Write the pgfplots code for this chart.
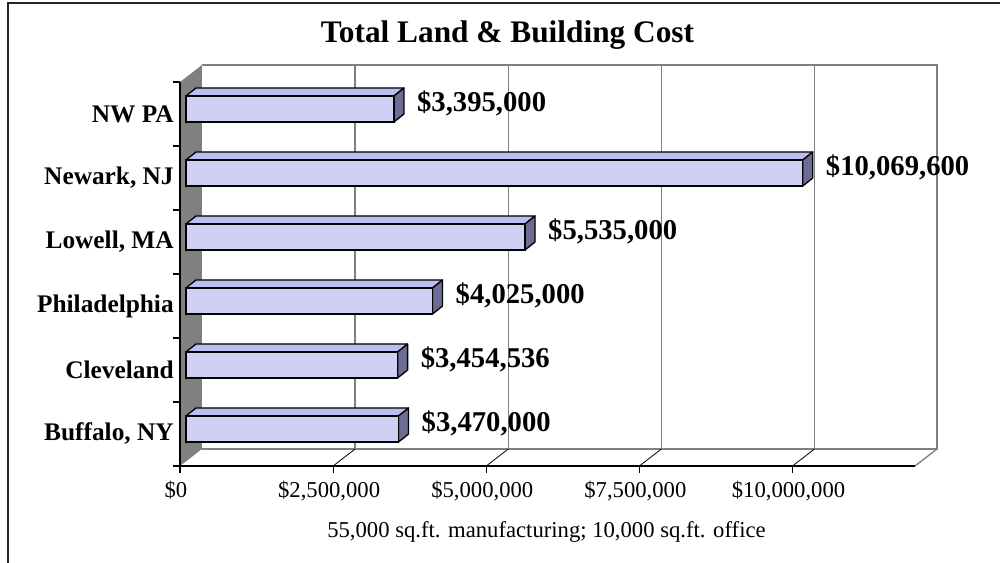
\documentclass[border=0pt]{standalone}
\usepackage{fontspec}
\setmainfont{Liberation Serif}
\usepackage{pgfplots}
\usepackage{pgfplotstable}
\pgfplotsset{compat=1.18}

\definecolor{barface}{RGB}{208,208,245}
\definecolor{bartop}{RGB}{188,188,238}
\definecolor{barend}{RGB}{108,108,150}
\definecolor{wallgray}{RGB}{128,128,128}
\definecolor{gridgray}{RGB}{128,128,128}

% y = category slot, bottom to top
\pgfplotstableread{
y value label
1 3470000 3,470,000
2 3454536 3,454,536
3 4025000 4,025,000
4 5535000 5,535,000
5 10069600 10,069,600
6 3395000 3,395,000
}\costs

\begin{document}
\begin{tikzpicture}
\begin{axis}[
  scale only axis, width=551.25pt, height=288pt,
  xmin=0, xmax=12000000, ymin=0.5, ymax=6.5,
  clip=false, axis on top,
  axis x line*=bottom, axis y line*=left,
  axis line style={black, line width=0.8pt},
  xtick={0,2500000,5000000,7500000,10000000},
  xticklabels={{\$0},{\$2,500,000},{\$5,000,000},{\$7,500,000},{\$10,000,000}},
  minor xtick={0,2500000,5000000,7500000,10000000},
  scaled x ticks=false,
  ytick={1,...,6},
  yticklabels={{Buffalo, NY},Cleveland,Philadelphia,{Lowell, MA},{Newark, NJ},NW PA},
  minor ytick={0.5,1.5,...,6.5},
  tick align=outside,
  major tick length=0pt, minor tick length=5pt,
  tick style={black, line width=0.8pt},
  xticklabel style={font=\fontsize{17}{17}\selectfont, xshift=-3pt, yshift=-7.5pt},
  yticklabel style={font=\fontsize{19}{19}\selectfont\bfseries, xshift=-1.2pt},
]
\coordinate (O) at (axis cs:0,0.5);
% left wall
\fill[wallgray] (axis cs:0,0.5) -- ++(16.5pt,12.75pt) -- ([shift={(16.5pt,12.75pt)}]axis cs:0,6.5) -- (axis cs:0,6.5) -- cycle;
% back wall and floor edges
\draw[gridgray, line width=1pt] ([shift={(16.5pt,12.75pt)}]axis cs:0,6.5) -- ([shift={(16.5pt,12.75pt)}]axis cs:12000000,6.5)
  -- ([shift={(16.5pt,12.75pt)}]axis cs:12000000,0.5) -- ([shift={(16.5pt,12.75pt)}]axis cs:0,0.5);
\draw[gridgray, line width=1pt] ([shift={(16.5pt,12.75pt)}]axis cs:12000000,0.5) -- (axis cs:12000000,0.5);
% gridlines
\pgfplotsinvokeforeach{2500000,5000000,7500000,10000000}{
  \draw[black, line width=0.6pt] (axis cs:#1,0.5) -- ++(16.5pt,12.75pt);
  \draw[gridgray, line width=1pt] ([shift={(16.5pt,12.75pt)}]axis cs:#1,0.5) -- ([shift={(16.5pt,12.75pt)}]axis cs:#1,6.5);
}
% bar tops and end caps
\pgfplotsinvokeforeach{0,...,5}{
  \pgfplotstablegetelem{#1}{value}\of\costs \let\val\pgfplotsretval
  \pgfplotstablegetelem{#1}{y}\of\costs \let\yy\pgfplotsretval
  \edef\tmp{%
    \noexpand\filldraw[fill=bartop, draw=black, line width=1pt, line join=round]
      ([shift={(4.5pt,13.5pt)}]axis cs:0,\yy) -- ++(7.5pt,6pt) -- ([shift={(12pt,19.5pt)}]axis cs:\val,\yy)
      -- ([shift={(4.5pt,13.5pt)}]axis cs:\val,\yy) -- cycle;
    \noexpand\filldraw[fill=barend, draw=black, line width=1pt, line join=round]
      ([shift={(4.5pt,-6pt)}]axis cs:\val,\yy) -- ([shift={(4.5pt,13.5pt)}]axis cs:\val,\yy)
      -- ([shift={(12pt,19.5pt)}]axis cs:\val,\yy) -- ([shift={(12pt,0pt)}]axis cs:\val,\yy) -- cycle;}
  \tmp
}
\addplot[xbar, bar width=19.5pt, bar shift=0pt, xshift=4.5pt, yshift=3.75pt,
  fill=barface, draw=black, line width=1pt,
  point meta=explicit symbolic,
  nodes near coords={\$\pgfplotspointmeta},
  every node near coord/.append style={anchor=base west, inner sep=0pt, xshift=16.9pt, yshift=-1.6pt,
    font=\fontsize{21.5}{21.5}\selectfont\bfseries, text=black}]
  table[x=value, y=y, meta=label] {\costs};
\node[anchor=base, font=\fontsize{23.5}{23.5}\selectfont\bfseries] at (rel axis cs:0.4456,1.1016) {Total Land \& Building Cost};
\node[anchor=base, font=\fontsize{17}{17}\selectfont] at (rel axis cs:0.4986,-0.1849) {55,000 sq.ft. manufacturing; 10,000 sq.ft. office};
\end{axis}
\draw[black!85, line width=0.8pt] ([shift={(-129pt,-90pt)}]O) -- ([shift={(-129pt,347.25pt)}]O) -- ([shift={(700pt,347.25pt)}]O);
\pgfresetboundingbox
\path[use as bounding box] ([shift={(-135pt,-72.75pt)}]O) rectangle ++(750pt,422.25pt);
\end{tikzpicture}
\end{document}
